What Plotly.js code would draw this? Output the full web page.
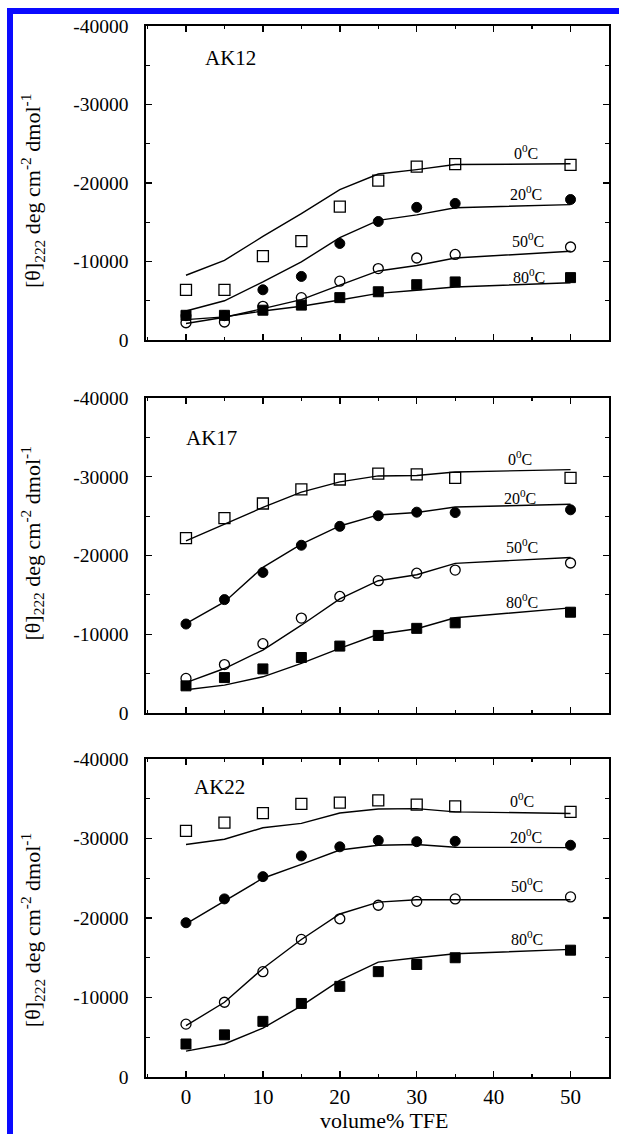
<!DOCTYPE html>
<html>
<head>
<meta charset="utf-8">
<script src="https://cdn.plot.ly/plotly-3.0.1.min.js"></script>
<style>
  html, body { margin: 0; padding: 0; background: #ffffff; }
  #wrap { position: relative; width: 619px; height: 1134px; overflow: hidden; }
  #chart { position: absolute; left: 0; top: 0; width: 619px; height: 1134px; }
  .blue-v { position: absolute; left: 7px; top: 8px; width: 6px; height: 1126px; background: #0a0aff; }
  .blue-h { position: absolute; left: 7px; top: 8px; width: 612px; height: 6px; background: #0a0aff; }
</style>
</head>
<body>
<div id="wrap">
  <div id="chart"></div>
  <div class="blue-v"></div>
  <div class="blue-h"></div>
</div>
<script>
// ---------------- data ----------------
const tfe = [0, 5, 10, 15, 20, 25, 30, 35, 50];

const panelNames = ['AK12', 'AK17', 'AK22'];
const tempLabels = ['0<sup>0</sup>C', '20<sup>0</sup>C', '50<sup>0</sup>C', '80<sup>0</sup>C'];

// AK12
const ak12_0C_pts  = [-6400, -6400, -10700, -12600, -17000, -20300, -22100, -22400, -22300];
const ak12_0C_fit  = [-8250, -10150, -13200, -16100, -19150, -21150, -21700, -22350, -22450];
const ak12_20C_pts = [-3100, -3100, -6400, -8100, -12300, -15100, -16900, -17400, -17900];
const ak12_20C_fit = [-3700, -5000, -7400, -9950, -13050, -15250, -15950, -16850, -17250];
const ak12_50C_pts = [-2200, -2300, -4300, -5400, -7500, -9100, -10450, -10900, -11850];
const ak12_50C_fit = [-2100, -2900, -4000, -5150, -7000, -8800, -9500, -10450, -11300];
const ak12_80C_pts = [-3150, -3150, -3800, -4450, -5400, -6150, -7050, -7400, -7950];
const ak12_80C_fit = [-2600, -2950, -3700, -4300, -5100, -5950, -6350, -6750, -7300];

// AK17
const ak17_0C_pts  = [-22200, -24750, -26600, -28400, -29650, -30400, -30300, -29850, -29850];
const ak17_0C_fit  = [-21850, -24000, -26100, -28050, -29350, -30100, -30150, -30600, -30900];
const ak17_20C_pts = [-11300, -14400, -17850, -21300, -23700, -25050, -25500, -25450, -25800];
const ak17_20C_fit = [-11350, -14100, -18500, -21450, -23750, -25150, -25450, -26150, -26500];
const ak17_50C_pts = [-4400, -6150, -8800, -12050, -14800, -16800, -17750, -18150, -19050];
const ak17_50C_fit = [-3850, -5650, -8000, -11150, -14500, -16800, -17550, -19000, -19750];
const ak17_80C_pts = [-3450, -4500, -5600, -7050, -8500, -9850, -10750, -11450, -12800];
const ak17_80C_fit = [-2950, -3550, -4600, -6300, -8200, -10000, -10700, -12100, -13350];

// AK22
const ak22_0C_pts  = [-30950, -32000, -33200, -34350, -34500, -34800, -34250, -34050, -33350];
const ak22_0C_fit  = [-29250, -29900, -31350, -31900, -33200, -33700, -33750, -33350, -33150];
const ak22_20C_pts = [-19400, -22400, -25200, -27800, -28950, -29750, -29600, -29650, -29150];
const ak22_20C_fit = [-19250, -22100, -25000, -26750, -28550, -29150, -29250, -28900, -28850];
const ak22_50C_pts = [-6650, -9400, -13250, -17300, -19900, -21600, -22100, -22400, -22650];
const ak22_50C_fit = [-6450, -9400, -13650, -17300, -20500, -22000, -22300, -22300, -22300];
const ak22_80C_pts = [-4150, -5300, -7000, -9250, -11400, -13250, -14150, -15000, -15950];
const ak22_80C_fit = [-3250, -4150, -6150, -8950, -12150, -14450, -15000, -15500, -16050];

const yTickVals = [-40000, -30000, -20000, -10000, 0];
const yTickText = ['-40000', '-30000', '-20000', '-10000', '0'];
const xTickVals = [0, 10, 20, 30, 40, 50];
const xTickText = ['0', '10', '20', '30', '40', '50'];

const yTitleText = '[θ]<sub>222</sub> deg cm<sup>-2</sup> dmol<sup>-1</sup>';
const xTitleText = 'volume% TFE';

// ---------------- styling ----------------
const FONT = '"Liberation Serif", "Times New Roman", serif';
const panels = [
  { pts: [ak12_0C_pts, ak12_20C_pts, ak12_50C_pts, ak12_80C_pts],
    fit: [ak12_0C_fit, ak12_20C_fit, ak12_50C_fit, ak12_80C_fit],
    labelPos: [[44.2, -24000], [44.2, -18700], [44.5, -12750], [44.6, -8100]],
    namePos: [2.2, -35900] },
  { pts: [ak17_0C_pts, ak17_20C_pts, ak17_50C_pts, ak17_80C_pts],
    fit: [ak17_0C_fit, ak17_20C_fit, ak17_50C_fit, ak17_80C_fit],
    labelPos: [[43.4, -32400], [43.4, -27450], [43.7, -21250], [43.7, -14200]],
    namePos: [-0.2, -34900] },
  { pts: [ak22_0C_pts, ak22_20C_pts, ak22_50C_pts, ak22_80C_pts],
    fit: [ak22_0C_fit, ak22_20C_fit, ak22_50C_fit, ak22_80C_fit],
    labelPos: [[43.7, -34850], [44.2, -30350], [44.4, -24150], [44.4, -17500]],
    namePos: [0.8, -36450] }
];

const markerStyles = [
  { symbol: 'square-open', size: 11, color: 'black', line: { width: 1.3, color: 'black' } },
  { symbol: 'circle', size: 10, color: 'black', line: { width: 1, color: 'black' } },
  { symbol: 'circle-open', size: 10, color: 'black', line: { width: 1.3, color: 'black' } },
  { symbol: 'square', size: 10, color: 'black', line: { width: 1, color: 'black' } }
];

// pixel geometry -> paper domains (margins l=146, r=10, t=26, b=57)
const domains = [[0.7012, 1.0], [0.3463, 0.6461], [0.0, 0.3026]];

const traces = [];
const annotations = [];
const layout = {
  width: 619, height: 1134,
  margin: { l: 146, r: 10, t: 26, b: 57, pad: 0 },
  paper_bgcolor: 'rgba(0,0,0,0)',
  plot_bgcolor: 'white',
  showlegend: false,
  font: { family: FONT, color: 'black' },
  annotations: annotations
};

panels.forEach((p, i) => {
  const n = i + 1;
  const xa = n === 1 ? 'x' : 'x' + n;
  const ya = n === 1 ? 'y' : 'y' + n;
  for (let k = 0; k < 4; k++) {
    traces.push({ x: tfe, y: p.fit[k], xaxis: xa, yaxis: ya, type: 'scatter', mode: 'lines',
      line: { color: 'black', width: 1.4 }, hoverinfo: 'skip' });
  }
  for (let k = 0; k < 4; k++) {
    const ms = markerStyles[k];
    traces.push({ x: tfe, y: p.pts[k], xaxis: xa, yaxis: ya, type: 'scatter', mode: 'markers',
      marker: { symbol: ms.symbol, size: ms.size, color: ms.color, line: ms.line } });
  }
  const xKey = n === 1 ? 'xaxis' : 'xaxis' + n;
  const yKey = n === 1 ? 'yaxis' : 'yaxis' + n;
  layout[xKey] = {
    domain: [0, 1], anchor: ya, range: [-5.2, 55],
    showline: true, linecolor: 'black', linewidth: 1.6, mirror: 'ticks',
    ticks: 'inside', ticklen: 6, tickwidth: 1.4, tickcolor: 'black',
    tickmode: 'array', tickvals: xTickVals, ticktext: xTickText,
    showticklabels: n === 3, ticklabelstandoff: 0,
    tickfont: { family: FONT, size: 21, color: 'black' },
    minor: { ticks: 'inside', ticklen: 3, tickwidth: 1.2, tickcolor: 'black', tickmode: 'linear', tick0: 5, dtick: 10, showgrid: false },
    showgrid: false, zeroline: false, fixedrange: true
  };
  layout[yKey] = {
    domain: domains[i], anchor: xa, range: [0, -40000],
    showline: true, linecolor: 'black', linewidth: 1.6, mirror: 'ticks',
    ticks: 'inside', ticklen: 6, tickwidth: 1.4, tickcolor: 'black',
    tickmode: 'array', tickvals: yTickVals, ticktext: yTickText,
    ticklabelstandoff: 12,
    tickfont: { family: FONT, size: 19.5, color: 'black' },
    minor: { ticks: 'inside', ticklen: 4, tickwidth: 1.2, tickcolor: 'black', tickmode: 'linear', tick0: -5000, dtick: 10000, showgrid: false },
    showgrid: false, zeroline: false, fixedrange: true
  };
  // temperature labels
  for (let k = 0; k < 4; k++) {
    annotations.push({ xref: xa, yref: ya, x: p.labelPos[k][0], y: p.labelPos[k][1],
      text: tempLabels[k], showarrow: false, xanchor: 'center', yanchor: 'middle',
      font: { family: FONT, size: 16, color: 'black' } });
  }
  // panel name
  annotations.push({ xref: xa, yref: ya, x: p.namePos[0], y: p.namePos[1],
    text: panelNames[i], showarrow: false, xanchor: 'left', yanchor: 'middle',
    font: { family: FONT, size: 21, color: 'black' } });
  // y-axis title
  annotations.push({ xref: 'paper', yref: 'paper', x: -0.245,
    y: (domains[i][0] + domains[i][1]) / 2 - (i === 0 ? 0.008 : (i === 1 ? -0.011 : 0.012)),
    text: yTitleText, textangle: -90, showarrow: false, xanchor: 'center', yanchor: 'middle',
    font: { family: FONT, size: 22, color: 'black' } });
});

// x-axis title
annotations.push({ xref: 'paper', yref: 'paper', x: 0.515, y: -0.0538,
  text: xTitleText, showarrow: false, xanchor: 'center', yanchor: 'bottom', borderpad: 0,
  font: { family: FONT, size: 22, color: 'black' } });

Plotly.newPlot('chart', traces, layout, { staticPlot: true, displayModeBar: false });
</script>
</body>
</html>
